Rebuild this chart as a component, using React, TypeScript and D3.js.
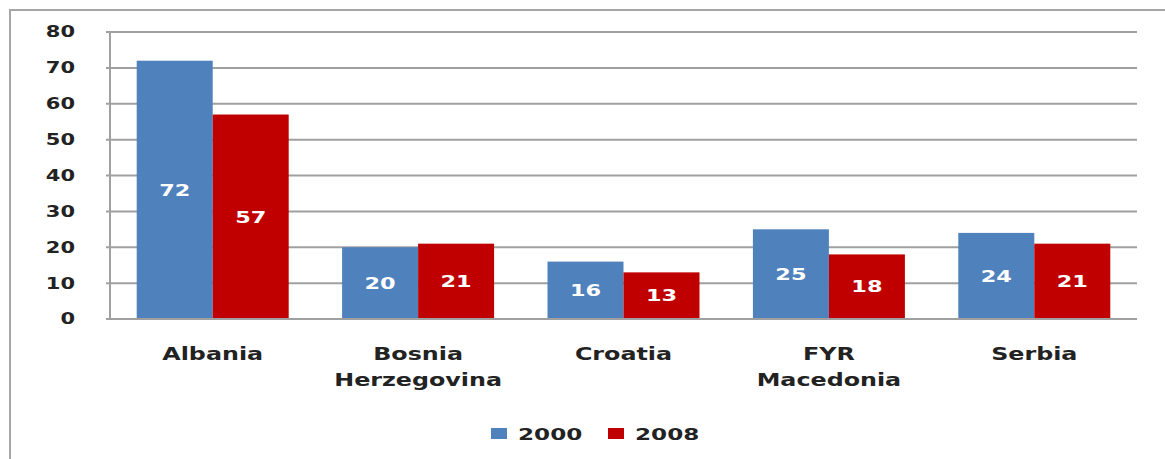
import React, { useEffect, useRef } from "react";
import * as d3 from "d3";

const categories = ["Albania", "Bosnia\nHerzegovina", "Croatia", "FYR\nMacedonia", "Serbia"];
const series = ["2000", "2008"];
const values2000 = [72, 20, 16, 25, 24];
const values2008 = [57, 21, 13, 18, 21];
const yTicks = [0, 10, 20, 30, 40, 50, 60, 70, 80];

const colors = { "2000": "#4F81BD", "2008": "#C00000" };
const font = "'DejaVu Sans', Verdana, sans-serif";
const stretch = 1.4; // text in the original is widened

export default function App() {
    const ref = useRef<SVGSVGElement>(null);

    useEffect(() => {
        const svg = d3.select(ref.current);
        svg.selectAll("*").remove();

        const W = 1165, H = 459;
        const left = 110, right = 1137, top = 32, bottom = 319;

        svg.append("rect").attr("width", W).attr("height", H).attr("fill", "#fff");
        // outer chart frame
        svg.append("rect")
            .attr("x", 10).attr("y", 10)
            .attr("width", W + 20).attr("height", H + 20)
            .attr("fill", "none").attr("stroke", "#a6a6a6").attr("stroke-width", 2);

        const y = d3.scaleLinear().domain([0, 80]).range([bottom, top]);
        const x0 = d3.scaleBand().domain(categories).range([left, right]).paddingInner(0.26).paddingOuter(0.13);
        const x1 = d3.scaleBand().domain(series).range([0, x0.bandwidth()]).padding(0);

        const rows = categories.map((c, i) => ({ cat: c, vals: [values2000[i], values2008[i]] }));

        // gridlines
        svg.append("g").selectAll("line")
            .data(yTicks.filter(t => t > 0))
            .enter().append("line")
            .attr("x1", left - 4).attr("x2", right)
            .attr("y1", d => y(d)).attr("y2", d => y(d))
            .attr("stroke", "#a0a0a0").attr("stroke-width", 2);

        // tick labels
        svg.append("g").selectAll("text")
            .data(yTicks)
            .enter().append("text")
            .attr("transform", d => `translate(75,${y(d)}) scale(${stretch},1)`)
            .attr("text-anchor", "end")
            .attr("dy", "0.36em")
            .attr("font-family", font).attr("font-weight", "bold").attr("font-size", 15)
            .attr("fill", "#222")
            .text(d => d);

        // bars
        const groups = svg.append("g").selectAll("g")
            .data(rows)
            .enter().append("g")
            .attr("transform", d => `translate(${x0(d.cat)},0)`);

        groups.selectAll("rect")
            .data(d => d.vals.map((v, k) => ({ key: series[k], v })))
            .enter().append("rect")
            .attr("x", d => x1(d.key)!)
            .attr("y", d => y(d.v))
            .attr("width", x1.bandwidth())
            .attr("height", d => y(0) - y(d.v))
            .attr("fill", d => colors[d.key as "2000" | "2008"]);

        groups.selectAll("text")
            .data(d => d.vals.map((v, k) => ({ key: series[k], v })))
            .enter().append("text")
            .attr("transform", d => `translate(${x1(d.key)! + x1.bandwidth() / 2},${(y(d.v) + y(0)) / 2}) scale(${stretch},1)`)
            .attr("text-anchor", "middle")
            .attr("dy", "0.36em")
            .attr("font-family", font).attr("font-weight", "bold").attr("font-size", 16)
            .attr("fill", "#fff")
            .text(d => d.v);

        // axis lines
        svg.append("line")
            .attr("x1", left).attr("x2", left).attr("y1", top).attr("y2", bottom)
            .attr("stroke", "#a0a0a0").attr("stroke-width", 2);
        svg.append("line")
            .attr("x1", left - 4).attr("x2", right).attr("y1", bottom).attr("y2", bottom)
            .attr("stroke", "#a0a0a0").attr("stroke-width", 2);

        // category labels
        const catText = svg.append("g").selectAll("text")
            .data(categories)
            .enter().append("text")
            .attr("transform", d => `translate(${x0(d)! + x0.bandwidth() / 2},360) scale(${stretch},1)`)
            .attr("text-anchor", "middle")
            .attr("font-family", font).attr("font-weight", "bold").attr("font-size", 17)
            .attr("fill", "#222");
        catText.selectAll("tspan")
            .data(d => d.split("\n"))
            .enter().append("tspan")
            .attr("x", 0)
            .attr("y", (d, i) => i * 26)
            .text(d => d);

        // legend
        const legend = svg.append("g").selectAll("g")
            .data(series)
            .enter().append("g")
            .attr("transform", (d, i) => `translate(${491 + i * 117},428)`);
        legend.append("rect")
            .attr("width", 16).attr("height", 11)
            .attr("fill", d => colors[d as "2000" | "2008"]);
        legend.append("text")
            .attr("transform", `translate(27,6) scale(${stretch},1)`)
            .attr("dy", "0.36em")
            .attr("font-family", font).attr("font-weight", "bold").attr("font-size", 16.5)
            .attr("fill", "#222")
            .text(d => d);
    }, []);

    return (
        <svg ref={ref} width={1165} height={459}
            style={{ position: "absolute", left: 0, top: 0 }}></svg>
    );
}
